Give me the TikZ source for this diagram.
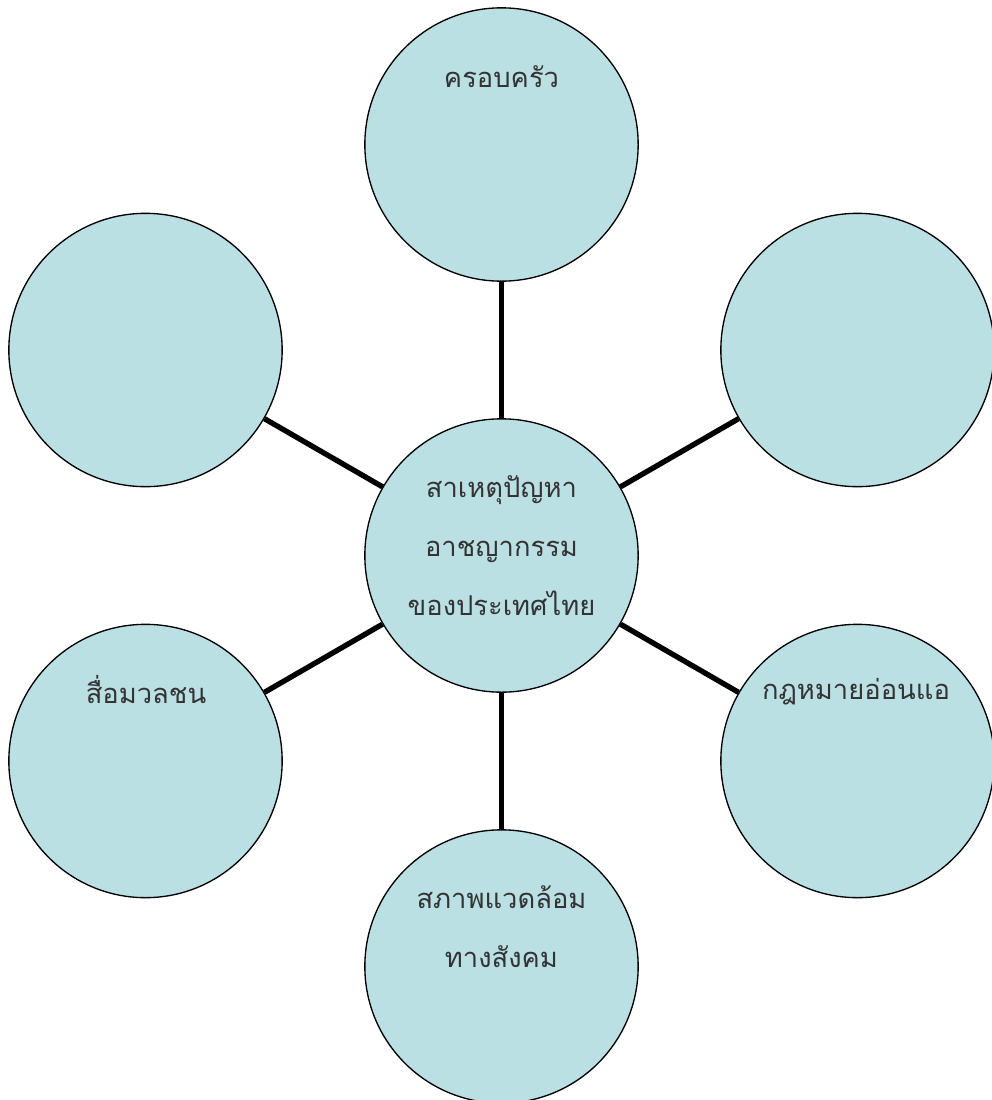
\documentclass[tikz,border=0pt]{standalone}
\usepackage{fontspec}
\newfontfamily\thaifont[Script=Thai]{Loma}
\definecolor{blobfill}{RGB}{186,224,228}

\begin{document}
\begin{tikzpicture}[x=0.75pt,y=-0.75pt]
    \tikzstyle{blob} = [circle, draw=black, line width=1pt, fill=blobfill,
        minimum size=205pt, inner sep=0pt]
    \tikzstyle{lbl} = [draw=none, fill=none, align=center, text=black!80,
        font=\thaifont\fontsize{20.5}{44.25}\selectfont]
    \tikzstyle{spoke} = [line width=4pt]

    \useasboundingbox (0,0) rectangle (992,1100);

    % hub and the six causes round it
    \node[blob] (hub) at (501.5,555.5) {};
    \node[blob] (family) at (501.5,144.5) {};
    \node[blob] (ne) at (857.5,350) {};
    \node[blob] (law) at (857.5,761) {};
    \node[blob] (society) at (501.5,966.5) {};
    \node[blob] (media) at (145.5,761) {};
    \node[blob] (nw) at (145.5,350) {};

    \draw[spoke] (hub) -- (family);
    \draw[spoke] (hub) -- (ne);
    \draw[spoke] (hub) -- (law);
    \draw[spoke] (hub) -- (society);
    \draw[spoke] (hub) -- (media);
    \draw[spoke] (hub) -- (nw);

    % texts
    \node[lbl] (hubtext) at (501.5,546) {สาเหตุปัญหา\\อาชญากรรม\\ของประเทศไทย};
    \node[lbl] (familytext) at (501.5,77) {ครอบครัว};
    \node[lbl] (lawtext) at (856,692) {กฎหมายอ่อนแอ};
    \node[lbl] (mediatext) at (146,690) {สื่อมวลชน};
    \node[lbl] (societytext) at (501.5,927) {สภาพแวดล้อม\\ทางสังคม};
\end{tikzpicture}
\end{document}
